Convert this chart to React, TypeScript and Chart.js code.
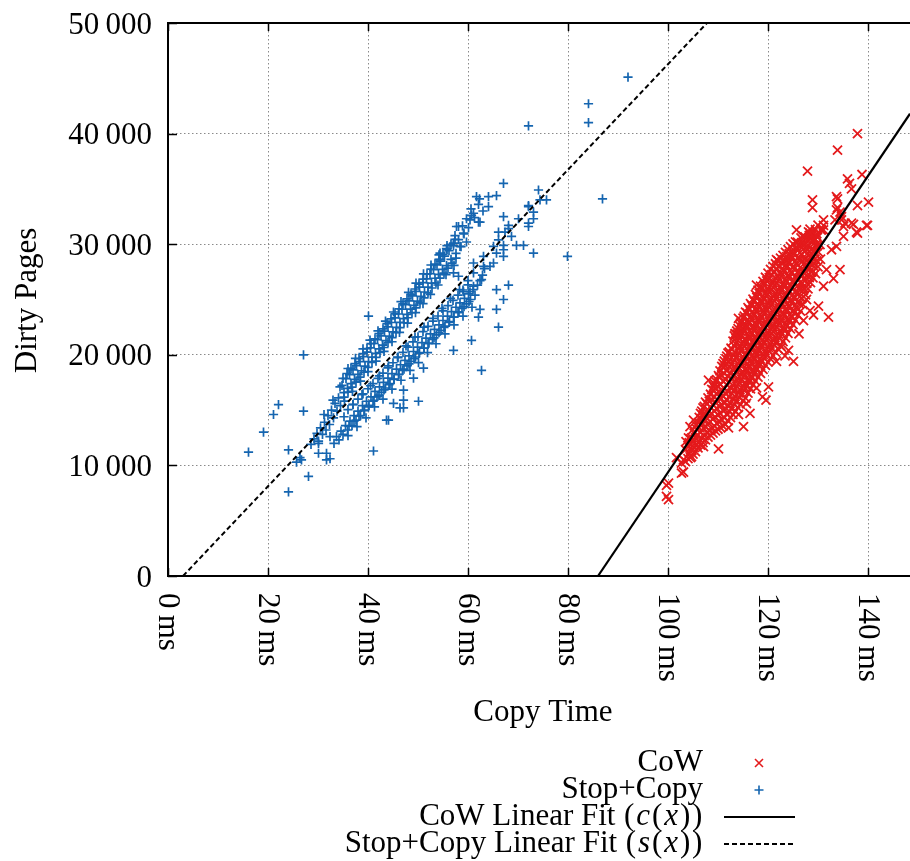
import React, { useEffect, useRef } from 'react';
import { Chart, registerables } from 'chart.js';

Chart.register(...registerables);

// ---------- axes ----------
const xRange = [0, 148.4];
const yRange = [0, 50000];
const xTicks = [0, 20, 40, 60, 80, 100, 120, 140];
const xTickLabels = ['0\u2009ms', '20\u2009ms', '40\u2009ms', '60\u2009ms', '80\u2009ms', '100\u2009ms', '120\u2009ms', '140\u2009ms'];
const yTicks = [0, 10000, 20000, 30000, 40000, 50000];
const yTickLabels = ['0', '10\u2009000', '20\u2009000', '30\u2009000', '40\u2009000', '50\u2009000'];
const xTitle = 'Copy Time';
const yTitle = 'Dirty Pages';

// ---------- fits (end points) ----------
const cowFit = [[86, 0], [148.4, 41800]];
const stopCopyFit = [[3, 0], [107.8, 50000]];

// ---------- Stop+Copy samples [ms, pages] ----------
const stopCopyOutliers = [
  [16.1, 11200], [19.1, 13000], [21.1, 14600], [22.1, 15500], [27.1, 20000], [27.1, 14900], [24.1, 11400],
  [24.1, 7600], [28.1, 9000], [25.7, 10300], [26.7, 10500], [26.4, 10700], [41.1, 11300], [40.1, 23500],
  [44.1, 14100], [50.1, 15800], [47.1, 15900], [47.1, 15200], [45.1, 15600], [51.1, 18800], [49.1, 17900],
  [47.1, 16800], [43.7, 14100], [46.4, 15200], [62.7, 18600], [60.7, 21300], [57.1, 20400], [65.7, 25900],
  [68.1, 26300], [67.1, 25000], [65.7, 24100], [66.1, 22500], [62.4, 24100], [62.1, 23400], [72.1, 40700],
  [84.1, 42700], [84.1, 41000], [92.0, 45100], [86.9, 34100], [79.9, 28900], [73.1, 29200],
  [32.4, 12600], [31.7, 11100], [30.1, 12000], [30.1, 11100], [31.7, 10500], [32.4, 10600],
];
const stopCopyUpper = [
  [28.6, 11900], [29.2, 12400], [29.8, 12900], [30.1, 12200], [30.5, 13400], [30.9, 12800], [31.3, 13900],
  [31.6, 13200], [32.0, 14500], [32.3, 13700], [32.7, 15000], [33.1, 14300], [33.4, 15600], [33.8, 14900],
  [34.1, 16100], [34.5, 15400], [34.8, 17230], [35.2, 16580], [35.6, 17840], [35.9, 16960], [36.3, 18210],
  [36.6, 17390], [37.0, 18640], [37.3, 17770], [37.7, 19020], [38.0, 18230], [38.4, 19380], [38.7, 18560],
  [39.1, 19830], [39.4, 18970], [39.8, 20240], [40.1, 19380], [40.5, 20630], [40.8, 19790], [41.2, 21020],
  [41.5, 20130], [41.9, 21380], [42.2, 20540], [42.6, 21720], [42.9, 20880], [43.3, 22140], [43.6, 21290],
  [44.0, 22530], [44.3, 21680], [44.7, 22920], [45.0, 22070], [45.4, 23330], [45.7, 22480], [46.1, 23690],
  [46.4, 22930], [46.8, 24120], [47.1, 23270], [47.5, 24530], [47.8, 23660], [48.2, 24880], [48.5, 24130],
  [48.9, 25320], [49.2, 24470], [49.6, 25730], [49.9, 24860], [50.3, 26120], [50.6, 25290], [51.0, 26530],
  [51.3, 25680], [51.7, 26870], [52.0, 26120], [52.4, 27330], [52.7, 26480], [53.1, 27690], [53.4, 26920],
  [53.8, 28130], [54.1, 27280], [54.5, 28470], [54.9, 27730], [55.3, 28920], [55.7, 28060], [56.2, 29410],
  [56.6, 28630], [57.1, 29880], [57.6, 29170], [58.1, 30420], [58.6, 29780], [59.2, 30930],
  [31.2, 14600], [33.0, 15900], [34.4, 17100], [36.0, 18760], [37.5, 19680], [39.0, 20530], [40.4, 21320],
  [42.0, 22170], [43.5, 23040], [45.1, 23870], [46.6, 24810], [48.1, 25640], [49.6, 26480], [51.1, 27320],
  [52.6, 28120], [54.2, 29040], [55.8, 29870], [57.4, 30780], [58.9, 31660],
  [35.3, 15810], [36.9, 16690], [38.5, 17620], [40.0, 18480], [41.6, 19430], [43.2, 20310], [44.8, 21180],
  [46.3, 22030], [47.9, 22870], [49.5, 23820], [51.0, 24630], [52.5, 25470], [54.0, 26310], [55.6, 27240],
  [57.2, 28090],
  [35.0, 17870], [35.2, 16180], [35.8, 18310], [36.0, 16630], [36.6, 18770], [36.8, 17080], [37.4, 19210],
  [37.6, 17530], [38.2, 19660], [38.4, 17980], [39.0, 20110], [39.2, 18420], [39.8, 20560], [40.0, 18870],
  [40.6, 21010], [40.8, 19320], [41.4, 21450], [41.6, 19770], [42.2, 21910], [42.4, 20210], [43.0, 22350],
  [43.2, 20660], [43.8, 22810], [44.0, 21110], [44.6, 23250], [44.8, 21560], [45.4, 23700], [45.6, 22010],
  [46.2, 24150], [46.4, 22460], [47.0, 24600], [47.2, 22900], [47.8, 25050], [48.0, 23350], [48.6, 25490],
  [48.8, 23800], [49.4, 25950], [49.6, 24250], [50.2, 26390], [50.4, 24700], [51.0, 26840], [51.2, 25150],
  [51.8, 27290], [52.0, 25600], [52.6, 27740], [52.8, 26040], [53.4, 28190], [53.6, 26490], [54.2, 28640],
  [54.4, 26940], [55.0, 29080], [55.2, 27390], [55.8, 29530], [56.0, 27840], [56.6, 29980], [56.8, 28290],
  [57.4, 30430], [57.6, 28740],
  [59.7, 32300], [60.1, 31500], [61.1, 32800], [61.3, 32400], [62.4, 32000], [62.1, 33600], [62.3, 34100],
  [64.1, 34300], [65.7, 34400], [64.1, 33400], [67.1, 35500], [59.1, 31000], [58.1, 31600], [63.0, 33000],
  [60.6, 33200], [61.7, 34300], [60.7, 32600], [62.1, 32000], [60.4, 32200], [57.7, 31600], [57.1, 30100],
  [58.4, 29800], [59.7, 30200],
];
const stopCopyLower = [
  [33.2, 12000], [33.7, 12600], [34.2, 12300], [34.6, 13100], [35.0, 12800], [35.5, 13600], [35.9, 13200],
  [36.4, 14000], [36.8, 13600], [37.2, 14500], [37.6, 14100], [38.0, 14900], [38.5, 14500], [38.9, 15400],
  [39.3, 15000], [39.7, 15800], [40.1, 15300], [40.6, 16200], [41.0, 15800], [41.4, 16700], [41.8, 16200],
  [42.3, 17100], [42.7, 16600], [43.1, 17500], [43.5, 17000], [44.0, 17900], [44.4, 17400], [44.8, 18300],
  [45.2, 17800], [45.7, 18700], [46.1, 18200], [46.5, 19100], [46.9, 18600], [47.4, 19500], [47.8, 19000],
  [48.2, 19900], [48.6, 19400], [49.1, 20300], [49.5, 19800], [49.9, 20700], [50.3, 20200], [50.8, 21100],
  [51.2, 20600], [51.6, 21500], [52.0, 21000], [52.5, 21900], [52.9, 21400], [53.3, 22300], [53.7, 21800],
  [54.2, 22700], [54.6, 22200], [55.0, 23100], [55.4, 22600], [55.9, 23500], [56.3, 23000], [56.7, 23900],
  [57.1, 23400], [57.6, 24300], [58.0, 23800], [58.4, 24700], [58.8, 24200], [59.3, 25100], [59.7, 24600],
  [60.1, 25500], [60.5, 25000], [61.0, 25900], [61.4, 25400], [61.9, 26300], [62.4, 26700], [62.9, 27200],
  [63.3, 27800],
  [35.2, 14400], [37.0, 15500], [38.8, 16400], [40.5, 17200], [42.3, 18100], [44.1, 19000], [45.9, 19800],
  [47.6, 20800], [49.4, 21600], [51.2, 22500], [53.0, 23300], [54.8, 24200], [56.5, 25100], [58.3, 25900],
  [60.0, 26700],
  [36.0, 12700], [37.8, 13500], [39.6, 14300], [41.3, 15300], [43.0, 16000], [44.8, 16900], [46.6, 17700],
  [48.4, 18600], [50.1, 19300], [51.9, 20200], [53.6, 21000], [55.4, 21900], [57.2, 22700], [59.0, 23500],
  [60.8, 24300],
  [36.0, 15050], [36.2, 13540], [37.0, 15520], [37.2, 14010], [38.0, 15990], [38.2, 14480], [39.0, 16460],
  [39.2, 14950], [40.0, 16930], [40.2, 15420], [41.0, 17400], [41.2, 15890], [42.0, 17870], [42.2, 16360],
  [43.0, 18340], [43.2, 16830], [44.0, 18810], [44.2, 17300], [45.0, 19280], [45.2, 17770], [46.0, 19750],
  [46.2, 18240], [47.0, 20220], [47.2, 18710], [48.0, 20690], [48.2, 19180], [49.0, 21160], [49.2, 19650],
  [50.0, 21630], [50.2, 20120], [51.0, 22100], [51.2, 20590], [52.0, 22570], [52.2, 21060], [53.0, 23040],
  [53.2, 21530], [54.0, 23510], [54.2, 22000], [55.0, 23980], [55.2, 22470], [56.0, 24450], [56.2, 22940],
  [57.0, 24920], [57.2, 23410], [58.0, 25390], [58.2, 23880], [59.0, 25860], [59.2, 24350], [60.0, 26330],
  [60.2, 24820],
  [63.1, 28000], [63.1, 28900], [64.4, 28000], [65.1, 28300], [65.1, 29800], [65.7, 29200], [66.1, 30400],
  [67.1, 29900], [67.1, 29500], [67.1, 28900], [68.1, 31400], [68.1, 31700], [68.7, 30700], [69.7, 29900],
  [71.1, 29900], [70.1, 32300], [72.1, 31900], [72.1, 31600], [73.1, 32900], [73.1, 32300], [72.1, 33400],
  [72.1, 33500], [74.1, 34900], [74.4, 34000], [75.7, 34000], [66.1, 31100], [67.4, 31100], [67.1, 32500],
  [61.1, 28300], [61.1, 27400], [60.4, 25700], [59.1, 25700], [58.1, 27100], [57.1, 27400], [55.7, 29600],
  [54.4, 29200], [54.4, 28600], [62.7, 26800], [61.1, 26200],
];

// ---------- CoW samples [ms, pages] ----------
const cowOutliers = [
  [99.7, 8200], [99.7, 7200], [100.1, 8400], [100.1, 6900], [102.7, 9300], [102.7, 10200], [101.7, 10700],
  [103.1, 10500], [103.1, 9400], [104.7, 10800], [115.1, 13500], [114.1, 14600], [112.1, 13400], [110.1, 11500],
  [107.1, 11700], [115.7, 15600], [117.7, 17000], [120.1, 17100], [121.7, 19400], [122.7, 20700], [124.1, 20400],
  [125.1, 19400], [127.1, 23100], [128.4, 24000], [129.1, 23600], [130.1, 24400], [132.1, 23400], [127.7, 25000],
  [131.1, 26200], [133.1, 26900], [134.4, 27700], [131.7, 27700], [125.7, 31300], [127.1, 30700], [128.4, 31000],
  [129.1, 30400], [129.7, 30800], [131.1, 31300], [135.1, 30700], [133.7, 29800], [132.7, 29500], [134.4, 32900],
  [134.7, 32200], [135.1, 31600], [133.4, 32200], [131.1, 32200], [130.7, 31300], [133.9, 34100], [133.9, 33300],
  [137.9, 33500], [140.1, 33800], [139.9, 31700], [137.9, 31000], [137.1, 31800], [128.9, 34000], [128.9, 33300],
  [135.9, 35900], [136.3, 35500], [136.7, 35000], [138.8, 36300], [127.9, 36600], [133.9, 38500], [137.9, 40000],
  [108.1, 17700], [105.1, 14100], [104.4, 13500], [114.1, 23300], [113.4, 21900], [117.7, 26300], [121.7, 28600],
  [133.7, 34300], [133.7, 33100], [134.7, 32500], [135.4, 31900], [131.1, 31700], [136.7, 31900], [137.7, 31100],
  [139.7, 31700], [118.9, 16200], [123.4, 19900], [126.2, 21900], [119.6, 15900], [116.4, 14700],
];
const cowCore = [
  [103.5, 10350], [103.5, 11420], [103.6, 12150], [104.0, 10620], [104.0, 11780], [104.1, 12480],
  [104.5, 10710], [104.4, 11560], [104.5, 12390], [105.0, 11020], [105.1, 12130], [104.9, 13210],
  [105.5, 11240], [105.5, 12510], [105.6, 13640], [106.0, 11590], [105.9, 12740], [106.1, 13870],
  [106.5, 11830], [106.4, 13010], [106.6, 14220], [106.5, 14710], [107.0, 12060], [107.1, 13380],
  [106.9, 14520], [107.0, 15190], [107.5, 12310], [107.6, 13490], [107.4, 14680], [107.5, 15720],
  [108.0, 12560], [108.1, 13820], [107.9, 15040], [108.0, 16110], [108.5, 12740], [108.4, 13960],
  [108.6, 15230], [108.5, 16430], [109.0, 12930], [109.1, 14240], [108.9, 15520], [109.0, 16810],
  [109.1, 17150], [109.5, 13120], [109.4, 14380], [109.6, 15670], [109.5, 16920], [109.4, 17640],
  [110.0, 13270], [110.1, 14560], [109.9, 15890], [110.0, 17130], [110.1, 18120], [110.5, 13420],
  [110.4, 14730], [110.6, 16060], [110.5, 17310], [110.4, 18540], [111.0, 13560], [111.1, 14950],
  [110.9, 16280], [111.0, 17620], [111.1, 18830], [111.0, 19210], [111.5, 13710], [111.4, 15030],
  [111.6, 16440], [111.5, 17750], [111.4, 18990], [111.6, 19640], [112.0, 14040], [112.1, 15370],
  [111.9, 16720], [112.0, 18050], [112.1, 19330], [112.0, 20160], [112.5, 14330], [112.4, 15610],
  [112.6, 16940], [112.5, 18290], [112.4, 19580], [112.6, 20610], [113.0, 14620], [113.1, 15960],
  [112.9, 17270], [113.0, 18630], [113.1, 19920], [113.0, 21230], [113.5, 14910], [113.4, 16240],
  [113.6, 17530], [113.5, 18880], [113.4, 20210], [113.6, 21470], [113.5, 21890], [114.0, 15230],
  [114.1, 16560], [113.9, 17890], [114.0, 19240], [114.1, 20530], [113.9, 21860], [114.0, 22370],
  [114.5, 15520], [114.4, 16830], [114.6, 18170], [114.5, 19480], [114.4, 20790], [114.6, 22120],
  [114.5, 22860], [115.0, 15840], [115.1, 17150], [114.9, 18480], [115.0, 19810], [115.1, 21140],
  [114.9, 22450], [115.0, 23320], [115.5, 16110], [115.4, 17440], [115.6, 18760], [115.5, 20090],
  [115.4, 21400], [115.6, 22730], [115.5, 23860], [116.0, 16530], [116.1, 17850], [115.9, 19170],
  [116.0, 20480], [116.1, 21820], [115.9, 23110], [116.0, 24260], [116.5, 16920], [116.4, 18230],
  [116.6, 19550], [116.5, 20880], [116.4, 22190], [116.6, 23520], [116.5, 24630], [117.0, 17280],
  [117.1, 18610], [116.9, 19920], [117.0, 21250], [117.1, 22580], [116.9, 23880], [117.0, 25040],
  [117.5, 17630], [117.4, 18940], [117.6, 20280], [117.5, 21590], [117.4, 22910], [117.6, 24240],
  [117.5, 25450], [118.0, 17990], [118.1, 19310], [117.9, 20630], [118.0, 21960], [118.1, 23270],
  [117.9, 24610], [118.0, 25840], [118.5, 18330], [118.4, 19660], [118.6, 20970], [118.5, 22300],
  [118.4, 23620], [118.6, 24950], [118.5, 26210], [119.0, 18680], [119.1, 20010], [118.9, 21330],
  [119.0, 22650], [119.1, 23980], [118.9, 25290], [119.0, 26640], [119.5, 19040], [119.4, 20350],
  [119.6, 21680], [119.5, 23010], [119.4, 24320], [119.6, 25650], [119.5, 27010], [120.0, 19330],
  [120.1, 20660], [119.9, 21990], [120.0, 23310], [120.1, 24640], [119.9, 25960], [120.0, 27380],
  [120.5, 19640], [120.4, 20970], [120.6, 22290], [120.5, 23620], [120.4, 24950], [120.6, 26280],
  [120.5, 27720], [121.0, 19930], [121.1, 21260], [120.9, 22580], [121.0, 23910], [121.1, 25240],
  [120.9, 26560], [121.0, 27990], [121.5, 20240], [121.4, 21570], [121.6, 22890], [121.5, 24220],
  [121.4, 25540], [121.6, 26870], [121.5, 28230], [122.0, 20530], [122.1, 21860], [121.9, 23190],
  [122.0, 24510], [122.1, 25830], [121.9, 27160], [122.0, 28480], [122.5, 20840], [122.4, 22170],
  [122.6, 23490], [122.5, 24820], [122.4, 26140], [122.6, 27460], [122.5, 28740], [123.0, 21190],
  [123.1, 22520], [122.9, 23840], [123.0, 25160], [123.1, 26490], [122.9, 27810], [123.0, 28990],
  [123.5, 21530], [123.4, 22860], [123.6, 24180], [123.5, 25510], [123.4, 26830], [123.6, 28150],
  [123.5, 29260], [124.0, 21940], [124.1, 23270], [123.9, 24590], [124.0, 25910], [124.1, 27230],
  [123.9, 28560], [124.0, 29510], [124.5, 22340], [124.4, 23660], [124.6, 24990], [124.5, 26310],
  [124.4, 27640], [124.6, 28960], [124.5, 29770], [125.0, 22730], [125.1, 24060], [124.9, 25390],
  [125.0, 26710], [125.1, 28030], [124.9, 29360], [125.0, 30020], [125.5, 23140], [125.4, 24470],
  [125.6, 25790], [125.5, 27110], [125.4, 28440], [125.6, 29760], [125.5, 30210], [126.0, 23560],
  [126.1, 24880], [125.9, 26210], [126.0, 27530], [126.1, 28860], [125.9, 30180], [126.5, 23950],
  [126.4, 25280], [126.6, 26610], [126.5, 27930], [126.4, 29250], [126.6, 30560], [127.0, 24530],
  [127.1, 25850], [126.9, 27180], [127.0, 28500], [127.1, 29830], [126.9, 30740], [127.5, 25430],
  [127.4, 26760], [127.6, 28080], [127.5, 29410], [127.4, 30650], [128.0, 25960], [128.1, 27290],
  [127.9, 28610], [128.0, 29940], [128.1, 31120], [128.5, 26530], [128.4, 27860], [128.6, 29180],
  [128.5, 30510], [128.4, 31370], [129.0, 26950], [129.1, 28270], [128.9, 29600], [129.0, 30920],
  [129.5, 27340], [129.4, 28660], [129.6, 29990], [129.5, 31310], [130.0, 27960], [130.1, 29290],
  [129.9, 30610], [130.0, 31720], [130.5, 28640], [130.4, 29970], [130.6, 31290],
];
const cowCoreFill = [
  [104.25, 11100], [104.25, 12050], [104.75, 11350], [104.75, 12480], [105.25, 11620], [105.25, 12900],
  [105.75, 11900], [105.75, 13280], [106.25, 12150], [106.25, 13420], [106.25, 14330], [106.75, 12450],
  [106.75, 13760], [106.75, 14900], [107.25, 12700], [107.25, 14020], [107.25, 15330], [107.75, 12950],
  [107.75, 14300], [107.75, 15580], [108.25, 13150], [108.25, 14480], [108.25, 15810], [108.75, 13300],
  [108.75, 14650], [108.75, 15940], [108.75, 16880], [109.25, 13560], [109.25, 14900], [109.25, 16230],
  [109.25, 17390], [109.75, 13800], [109.75, 15180], [109.75, 16510], [109.75, 17760], [110.25, 13990],
  [110.25, 15340], [110.25, 16680], [110.25, 18000], [110.75, 14150], [110.75, 15480], [110.75, 16820],
  [110.75, 18140], [110.75, 18950], [111.25, 14300], [111.25, 15610], [111.25, 16970], [111.25, 18320],
  [111.25, 19420], [111.75, 14620], [111.75, 15950], [111.75, 17280], [111.75, 18600], [111.75, 19880],
  [112.25, 14890], [112.25, 16230], [112.25, 17560], [112.25, 18890], [112.25, 20250], [112.75, 15190],
  [112.75, 16520], [112.75, 17840], [112.75, 19170], [112.75, 20500], [113.25, 15520], [113.25, 16830],
  [113.25, 18170], [113.25, 19490], [113.25, 20820], [113.25, 21700], [113.75, 15830], [113.75, 17160],
  [113.75, 18490], [113.75, 19820], [113.75, 21150], [113.75, 22150], [114.25, 16150], [114.25, 17480],
  [114.25, 18810], [114.25, 20140], [114.25, 21470], [114.25, 22650], [114.75, 16470], [114.75, 17800],
  [114.75, 19130], [114.75, 20460], [114.75, 21790], [114.75, 23050], [115.25, 16790], [115.25, 18120],
  [115.25, 19450], [115.25, 20780], [115.25, 22110], [115.25, 23500], [115.75, 17150], [115.75, 18480],
  [115.75, 19810], [115.75, 21140], [115.75, 22470], [115.75, 23780], [116.25, 17520], [116.25, 18850],
  [116.25, 20180], [116.25, 21510], [116.25, 22840], [116.25, 24100], [116.75, 17890], [116.75, 19220],
  [116.75, 20550], [116.75, 21880], [116.75, 23210], [116.75, 24450], [117.25, 18260], [117.25, 19590],
  [117.25, 20920], [117.25, 22250], [117.25, 23580], [117.25, 24840], [117.75, 18640], [117.75, 19970],
  [117.75, 21300], [117.75, 22630], [117.75, 23960], [117.75, 25200], [118.25, 19000], [118.25, 20330],
  [118.25, 21660], [118.25, 22990], [118.25, 24320], [118.25, 25560], [118.75, 19350], [118.75, 20680],
  [118.75, 22010], [118.75, 23340], [118.75, 24670], [118.75, 25930], [119.25, 19700], [119.25, 21030],
  [119.25, 22360], [119.25, 23690], [119.25, 25020], [119.25, 26320], [119.75, 20030], [119.75, 21360],
  [119.75, 22690], [119.75, 24020], [119.75, 25350], [119.75, 26680], [120.25, 20330], [120.25, 21660],
  [120.25, 22990], [120.25, 24320], [120.25, 25650], [120.25, 26970], [120.75, 20620], [120.75, 21950],
  [120.75, 23280], [120.75, 24610], [120.75, 25940], [120.75, 27250], [121.25, 20910], [121.25, 22240],
  [121.25, 23570], [121.25, 24900], [121.25, 26230], [121.25, 27540], [121.75, 21210], [121.75, 22540],
  [121.75, 23870], [121.75, 25200], [121.75, 26530], [121.75, 27780], [122.25, 21520], [122.25, 22850],
  [122.25, 24180], [122.25, 25510], [122.25, 26840], [122.25, 28030], [122.75, 21850], [122.75, 23180],
  [122.75, 24510], [122.75, 25840], [122.75, 27170], [122.75, 28300], [123.25, 22200], [123.25, 23530],
  [123.25, 24860], [123.25, 26190], [123.25, 27520], [123.25, 28600], [123.75, 22580], [123.75, 23910],
  [123.75, 25240], [123.75, 26570], [123.75, 27900], [123.75, 28880], [124.25, 22980], [124.25, 24310],
  [124.25, 25640], [124.25, 26970], [124.25, 28300], [124.25, 29150], [124.75, 23380], [124.75, 24710],
  [124.75, 26040], [124.75, 27370], [124.75, 28700], [125.25, 23780], [125.25, 25110], [125.25, 26440],
  [125.25, 27770], [125.25, 29100], [125.75, 24200], [125.75, 25530], [125.75, 26860], [125.75, 28190],
  [125.75, 29480], [126.25, 24620], [126.25, 25950], [126.25, 27280], [126.25, 28610], [126.25, 29850],
  [126.75, 25080], [126.75, 26410], [126.75, 27740], [126.75, 29070], [126.75, 30150], [127.25, 25980],
  [127.25, 27310], [127.25, 28640], [127.25, 29970], [127.75, 26450], [127.75, 27780], [127.75, 29110],
  [127.75, 30380], [128.25, 26980], [128.25, 28310], [128.25, 29640], [128.25, 30800], [128.75, 27480],
  [128.75, 28810], [128.75, 30140], [129.25, 27950], [129.25, 29280], [129.25, 30560], [129.75, 28500],
  [129.75, 29830], [129.75, 30950],
];

// ---------- legend ----------
const legendLabels = ['CoW', 'Stop+Copy', 'CoW Linear Fit (c(x))', 'Stop+Copy Linear Fit (s(x))'];
const legendMath = [
  [['CoW', false]],
  [['Stop+Copy', false]],
  [['CoW Linear Fit ', false], ['(', false], ['c', true], ['(', false], ['x', true], [')', false], [')', false]],
  [['Stop+Copy Linear Fit ', false], ['(', false], ['s', true], ['(', false], ['x', true], [')', false], [')', false]],
];

const RED = '#e41a1c';
const BLUE = '#1565b0';
const SERIF = '"Liberation Serif", "Times New Roman", Times, serif';
const LEG_FONT = 31;

const toXY = (arr: number[][]) => arr.map(([x, y]) => ({ x, y }));

const decorPlugin = {
  id: 'decor',
  afterDraw(chart: any) {
    const { ctx, chartArea: a, scales } = chart;
    const xs = scales.x;
    const ys = scales.y;
    ctx.save();
    // frame
    ctx.strokeStyle = '#000';
    ctx.lineWidth = 2;
    ctx.beginPath();
    ctx.moveTo(a.right + 2, a.top);
    ctx.lineTo(a.left, a.top);
    ctx.lineTo(a.left, a.bottom);
    ctx.lineTo(a.right + 2, a.bottom);
    ctx.stroke();
    // inward tick marks
    ctx.lineWidth = 1.5;
    ctx.beginPath();
    xTicks.forEach((v) => {
      const px = Math.round(xs.getPixelForValue(v)) + 0.5;
      ctx.moveTo(px, a.bottom);
      ctx.lineTo(px, a.bottom - 8);
      ctx.moveTo(px, a.top);
      ctx.lineTo(px, a.top + 8);
    });
    yTicks.forEach((v) => {
      const py = Math.round(ys.getPixelForValue(v)) + 0.5;
      ctx.moveTo(a.left, py);
      ctx.lineTo(a.left + 9, py);
    });
    ctx.stroke();

    ctx.fillStyle = '#000';
    // y tick labels
    ctx.font = `31px ${SERIF}`;
    ctx.textAlign = 'right';
    ctx.textBaseline = 'alphabetic';
    yTicks.forEach((v, i) => {
      const py = ys.getPixelForValue(v);
      ctx.fillText(yTickLabels[i], a.left - 16, py + 10.5);
    });
    // x tick labels, rotated clockwise
    ctx.textAlign = 'left';
    xTicks.forEach((v, i) => {
      const px = xs.getPixelForValue(v);
      ctx.save();
      ctx.translate(px - 9, a.bottom + 17);
      ctx.rotate(Math.PI / 2);
      ctx.fillText(xTickLabels[i], 0, 0);
      ctx.restore();
    });
    // axis titles
    ctx.font = `31px ${SERIF}`;
    ctx.textAlign = 'center';
    ctx.fillText(xTitle, (a.left + a.right) / 2 + 4, 721);
    ctx.save();
    ctx.translate(36, (a.top + a.bottom) / 2 + 1);
    ctx.rotate(-Math.PI / 2);
    ctx.fillText(yTitle, 0, 0);
    ctx.restore();

    // legend
    const rightX = 703;
    const rows = [771, 798, 825, 852];
    ctx.textAlign = 'left';
    const extraFor = (k: number, it: boolean) => (k === 0 ? 0 : it ? 2.5 : 1.5);
    legendMath.forEach((parts, r) => {
      const widths = parts.map(([t, it], k) => {
        ctx.font = `${it ? 'italic ' : ''}${LEG_FONT}px ${SERIF}`;
        return ctx.measureText(t as string).width + extraFor(k, it as boolean);
      });
      let x = rightX - widths.reduce((s, w) => s + w, 0);
      parts.forEach(([t, it], k) => {
        ctx.font = `${it ? 'italic ' : ''}${LEG_FONT}px ${SERIF}`;
        ctx.fillText(t as string, x + extraFor(k, it as boolean) / 2, rows[r]);
        x += widths[k];
      });
    });
    // legend symbols
    const sx = 759;
    ctx.lineWidth = 1.6;
    ctx.strokeStyle = RED;
    ctx.beginPath();
    ctx.moveTo(sx - 4, 763 - 4); ctx.lineTo(sx + 4, 763 + 4);
    ctx.moveTo(sx - 4, 763 + 4); ctx.lineTo(sx + 4, 763 - 4);
    ctx.stroke();
    ctx.strokeStyle = BLUE;
    ctx.beginPath();
    ctx.moveTo(sx - 4.5, 790); ctx.lineTo(sx + 4.5, 790);
    ctx.moveTo(sx, 790 - 4.5); ctx.lineTo(sx, 790 + 4.5);
    ctx.stroke();
    ctx.strokeStyle = '#000';
    ctx.lineWidth = 2.2;
    ctx.beginPath();
    ctx.moveTo(724, 817); ctx.lineTo(795, 817);
    ctx.stroke();
    ctx.lineWidth = 2;
    ctx.setLineDash([5, 3]);
    ctx.beginPath();
    ctx.moveTo(724, 844); ctx.lineTo(795, 844);
    ctx.stroke();
    ctx.restore();
  },
};

export default function App() {
  const ref = useRef<HTMLCanvasElement | null>(null);
  useEffect(() => {
    if (!ref.current) return;
    const gridCommon = {
      color: '#8a8a8a',
      lineWidth: 1,
      drawTicks: false,
    };
    const chart = new Chart(ref.current, {
      type: 'scatter',
      data: {
        datasets: [
          {
            label: legendLabels[2],
            type: 'line',
            data: toXY(cowFit),
            borderColor: '#000',
            borderWidth: 2.2,
            pointRadius: 0,
            fill: false,
            showLine: true,
            order: 0,
          },
          {
            label: legendLabels[3],
            type: 'line',
            data: toXY(stopCopyFit),
            borderColor: '#000',
            borderWidth: 2,
            borderDash: [5, 3],
            pointRadius: 0,
            fill: false,
            showLine: true,
            order: 0,
          },
          {
            label: legendLabels[0],
            data: toXY([...cowCore, ...cowCoreFill, ...cowOutliers]),
            pointStyle: 'crossRot',
            pointRadius: 6.4,
            borderColor: RED,
            backgroundColor: RED,
            pointBorderWidth: 1.8,
            order: 1,
          },
          {
            label: legendLabels[1],
            data: toXY([...stopCopyOutliers, ...stopCopyUpper, ...stopCopyLower]),
            pointStyle: 'cross',
            pointRadius: 4.6,
            borderColor: BLUE,
            backgroundColor: BLUE,
            pointBorderWidth: 1.7,
            order: 1,
          },
        ],
      } as any,
      options: {
        responsive: false,
        animation: false,
        events: [],
        layout: { autoPadding: false, padding: { left: 168, top: 23, right: 0, bottom: 861 - 576 } },
        plugins: { legend: { display: false }, tooltip: { enabled: false } },
        scales: {
          x: {
            type: 'linear',
            min: xRange[0],
            max: xRange[1],
            ticks: { display: false, stepSize: 20, includeBounds: false },
            grid: gridCommon,
            border: { display: false, dash: [1.5, 2.5] },
          },
          y: {
            type: 'linear',
            min: yRange[0],
            max: yRange[1],
            ticks: { display: false, stepSize: 10000, includeBounds: false },
            grid: gridCommon,
            border: { display: false, dash: [1.5, 2.5] },
          },
        },
      } as any,
      plugins: [decorPlugin],
    });
    return () => chart.destroy();
  }, []);
  return (
    <div style={{ position: 'absolute', left: 0, top: 0, width: 910, height: 861, background: '#fff' }}>
      <canvas ref={ref} width={910} height={861} style={{ width: 910, height: 861, display: 'block' }} />
    </div>
  );
}
